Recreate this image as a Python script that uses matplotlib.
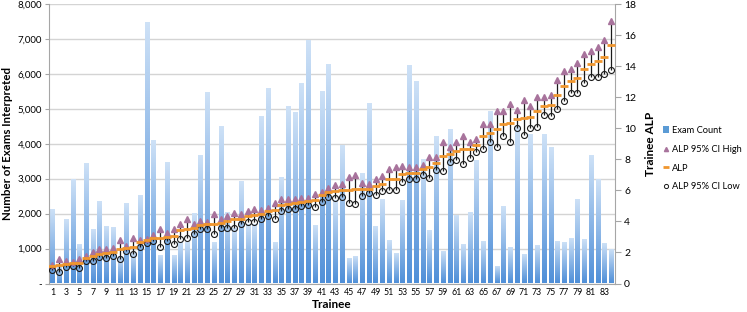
import numpy as np
import matplotlib
matplotlib.use("Agg")
import matplotlib.pyplot as plt
from matplotlib.patches import Rectangle
from matplotlib.lines import Line2D
from matplotlib.colors import LinearSegmentedColormap

plt.rcParams['font.family'] = ['Lato', 'DejaVu Sans']

trainees = list(range(1, 85))

exam_count = [2120, 500, 1840, 3000, 1140, 3460, 1550, 2360, 1640, 1620,
              800, 2300, 900, 2520, 7490, 4100, 830, 3490, 830, 1200,
              1190, 2020, 3670, 5480, 1180, 4500, 2050, 1600, 2920, 1700,
              1700, 4780, 5590, 1180, 3040, 5070, 4920, 5730, 6980, 1670,
              5520, 6270, 2400, 3960, 730, 790, 3160, 5160, 1650, 2420,
              1240, 880, 2380, 6240, 5810, 3570, 1520, 4210, 940, 4420,
              1950, 1120, 2050, 3540, 1220, 4930, 500, 2220, 1050, 4520,
              840, 4290, 1110, 4290, 3900, 1220, 1180, 1300, 2420, 1260,
              3680, 2990, 1160, 1000]

alp_high = [1.18, 1.6, 1.48, 1.37, 1.6, 1.79, 2.02, 2.2, 2.22, 2.31,
            2.79, 2.42, 2.94, 2.83, 2.87, 3.13, 3.54, 3.24, 3.52, 3.86,
            4.18, 3.86, 4.03, 3.96, 4.48, 4.18, 4.36, 4.56, 4.48, 4.65,
            4.8, 4.76, 4.86, 5.2, 5.46, 5.46, 5.42, 5.53, 5.53, 5.79,
            5.89, 6.18, 6.36, 6.43, 6.86, 6.96, 6.49, 6.43, 6.75, 6.9,
            7.39, 7.5, 7.54, 7.5, 7.5, 7.6, 8.16, 8.12, 9.1, 8.79,
            9.1, 9.48, 9.12, 9.33, 10.29, 10.29, 11.14, 11.08, 11.57, 11.18,
            11.79, 11.4, 12.0, 12.04, 12.15, 13.11, 13.71, 13.82, 14.18, 14.78,
            14.96, 15.26, 15.68, 16.88]

alp = [1.12, 1.2, 1.26, 1.3, 1.32, 1.67, 1.8, 1.93, 1.97, 2.06,
       2.22, 2.3, 2.38, 2.67, 2.79, 2.96, 2.96, 3.02, 3.05, 3.43,
       3.54, 3.59, 3.78, 3.8, 3.84, 3.9, 4.05, 4.14, 4.18, 4.33,
       4.44, 4.5, 4.67, 4.71, 5.04, 5.14, 5.19, 5.25, 5.31, 5.36,
       5.68, 5.92, 5.96, 6.04, 6.04, 6.06, 6.06, 6.11, 6.28, 6.43,
       6.75, 6.75, 7.07, 7.11, 7.11, 7.37, 7.5, 7.76, 8.2, 8.33,
       8.52, 8.63, 8.63, 8.94, 9.47, 9.71, 9.96, 10.29, 10.35, 10.61,
       10.67, 10.71, 11.08, 11.46, 11.51, 12.15, 12.75, 13.03, 13.24, 13.82,
       14.14, 14.31, 14.57, 15.36]

alp_low = [0.9, 0.75, 1.05, 1.14, 1.02, 1.44, 1.48, 1.71, 1.67, 1.74,
           1.61, 2.09, 1.88, 2.36, 2.59, 2.73, 2.36, 2.73, 2.53, 2.89,
           2.94, 3.21, 3.49, 3.5, 3.16, 3.59, 3.59, 3.6, 3.81, 3.96,
           3.96, 4.14, 4.33, 4.14, 4.67, 4.82, 4.82, 4.97, 5.04, 4.93,
           5.25, 5.57, 5.53, 5.57, 5.19, 5.14, 5.64, 5.83, 5.72, 5.94,
           6.04, 6.0, 6.54, 6.75, 6.75, 6.96, 6.79, 7.29, 7.24, 7.8,
           7.93, 7.71, 8.1, 8.49, 8.68, 9.11, 8.79, 9.47, 9.11, 10.03,
           9.54, 10.01, 10.07, 10.82, 10.76, 11.21, 11.74, 12.26, 12.28, 12.9,
           13.28, 13.33, 13.46, 13.78]

left_ticks = [0, 1000, 2000, 3000, 4000, 5000, 6000, 7000, 8000]
right_ticks = [0, 2, 4, 6, 8, 10, 12, 14, 16, 18]

fig = plt.figure(figsize=(7.47, 3.12), dpi=100)
ax = fig.add_axes([49/747, 1-283.5/312, (614.5-49)/747, (283.5-4)/312])
ax2 = ax.twinx()

grid_c = '#d4d4d4'
spine_c = '#a6a6a6'

# gradient bars
cmap = LinearSegmentedColormap.from_list('g', ['#4f8fd8', '#cfe2f7'])
grad = np.linspace(0, 1, 256).reshape(-1, 1)
bw = 0.6
for x, h in zip(trainees, exam_count):
    rect = Rectangle((x - bw/2, 0), bw, h, facecolor='none', edgecolor='none')
    ax.add_patch(rect)
    im = ax.imshow(grad, cmap=cmap, origin='lower', aspect='auto',
                   extent=[x - bw/2, x + bw/2, 0, h], zorder=2,
                   interpolation='bilinear')
    im.set_clip_path(rect)

ax.set_xlim(0.5, 84.5)
ax.set_ylim(0, 8000)
ax.set_yticks(left_ticks)
ax.set_yticklabels(['-' if v == 0 else f'{v:,}' for v in left_ticks], fontsize=7)
ax.yaxis.grid(True, color=grid_c, lw=1)
ax.set_axisbelow(True)
ax.set_xticks(trainees)
ax.set_xticklabels([str(t) if t % 2 == 1 else '' for t in trainees], fontsize=6.3)
ax.tick_params(axis='x', length=0, pad=3)
ax.tick_params(axis='y', length=3, color=spine_c, pad=2)
for s in ['top', 'right']:
    ax.spines[s].set_visible(False)
ax.spines['left'].set_color(spine_c)
ax.spines['bottom'].set_color(spine_c)
ax.set_xlabel('Trainee', fontsize=8.5, fontweight='bold', labelpad=2)
ax.set_ylabel('Number of Exams Interpreted', fontsize=8.3, fontweight='bold', labelpad=3)

# ALP series
ax2.set_ylim(0, 18)
ax2.set_yticks(right_ticks)
ax2.tick_params(axis='y', length=4, color=spine_c, labelsize=7.5, pad=3)
for s in ['top', 'left', 'bottom']:
    ax2.spines[s].set_visible(False)
ax2.spines['right'].set_color(spine_c)
ax2.set_ylabel('Trainee ALP', fontsize=8.5, fontweight='bold', labelpad=6)

ax2.vlines(trainees, alp_low, alp_high, color='#1a1a1a', lw=0.9, zorder=3)
ax2.plot(trainees, alp_high, linestyle='none', marker='^', ms=3.8,
         color='#a8739c', mec='#a8739c', zorder=4)
ax2.plot(trainees, alp, linestyle='none', marker='_', ms=5.5, mew=2,
         color='#f0962e', zorder=5)
ax2.plot(trainees, alp_low, linestyle='none', marker='o', ms=4.3,
         mfc='none', mec='#1a1a1a', mew=0.8, zorder=4)

handles = [
    Rectangle((0, 0), 1, 1, facecolor='#5b9bd5', edgecolor='none'),
    Line2D([], [], linestyle='none', marker='^', ms=3, color='#a8739c'),
    Line2D([], [], linestyle='none', marker='_', ms=5, mew=2, color='#f0962e'),
    Line2D([], [], linestyle='none', marker='o', ms=3, mfc='none', mec='#1a1a1a', mew=0.7),
]
labels = ['Exam Count', 'ALP 95% CI High', 'ALP', 'ALP 95% CI Low']
fig.legend(handles, labels, loc='upper left', bbox_to_anchor=(663/747, 1-126/312),
           frameon=False, fontsize=6.7, handlelength=0.6, handletextpad=0.4,
           labelspacing=1.05, borderpad=0, borderaxespad=0)

fig.savefig('out.png', dpi=100)
